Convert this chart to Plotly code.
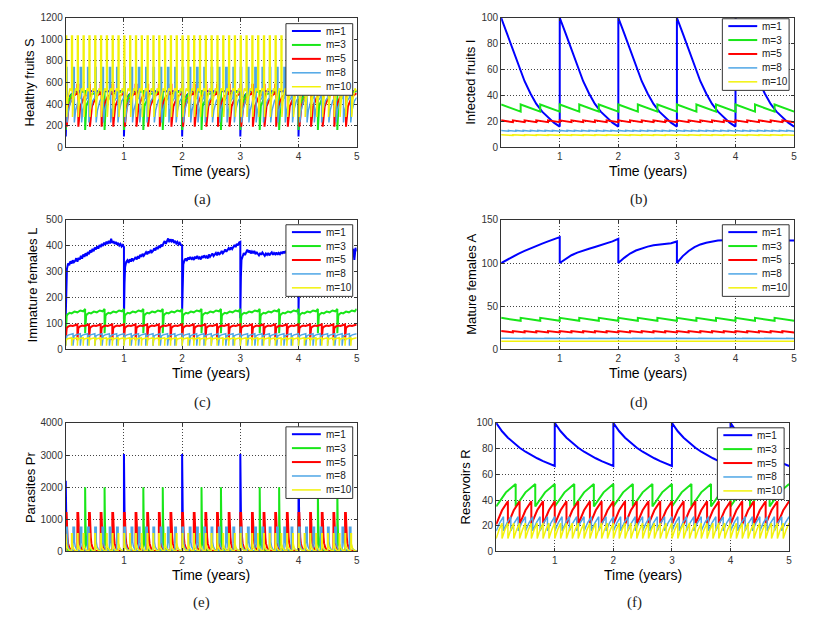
import plotly.graph_objects as go

W, H = 820, 631

# legend entries: number of releases per year
names = ["m=1", "m=3", "m=5", "m=8", "m=10"]
colors = ["#0000ff", "#19e619", "#ff0000", "#4ea6e6", "#f2f20a"]
widths = [2, 2, 2, 1.5, 1.5]

# release dates (years) for each m
rel_m1 = [0, 1, 2, 3, 4, 5]
rel_m3 = [0, 0.333, 0.667, 1, 1.333, 1.667, 2, 2.333, 2.667, 3, 3.333, 3.667, 4, 4.333, 4.667, 5]
rel_m5 = [0, 0.2, 0.4, 0.6, 0.8, 1, 1.2, 1.4, 1.6, 1.8, 2, 2.2, 2.4, 2.6, 2.8, 3, 3.2, 3.4, 3.6,
          3.8, 4, 4.2, 4.4, 4.6, 4.8, 5]
rel_m8 = [0, 0.125, 0.25, 0.375, 0.5, 0.625, 0.75, 0.875, 1, 1.125, 1.25, 1.375, 1.5, 1.625, 1.75,
          1.875, 2, 2.125, 2.25, 2.375, 2.5, 2.625, 2.75, 2.875, 3, 3.125, 3.25, 3.375, 3.5, 3.625,
          3.75, 3.875, 4, 4.125, 4.25, 4.375, 4.5, 4.625, 4.75, 4.875, 5]
rel_m10 = [0, 0.1, 0.2, 0.3, 0.4, 0.5, 0.6, 0.7, 0.8, 0.9, 1, 1.1, 1.2, 1.3, 1.4, 1.5, 1.6, 1.7,
           1.8, 1.9, 2, 2.1, 2.2, 2.3, 2.4, 2.5, 2.6, 2.7, 2.8, 2.9, 3, 3.1, 3.2, 3.3, 3.4, 3.5,
           3.6, 3.7, 3.8, 3.9, 4, 4.1, 4.2, 4.3, 4.4, 4.5, 4.6, 4.7, 4.8, 4.9, 5]
releases = [rel_m1, rel_m3, rel_m5, rel_m8, rel_m10]

# every curve: values read at fractions (phase) of the time between two releases
# a nested list gives one row of values per release interval

# (a) healthy fruits S
a_m1_phase = [0, 0.01, 0.04, 0.15, 1]
a_m1 = [100, 300, 460, 520, 520]
a_m3_phase = [0, 0, 0.06, 0.3, 1]
a_m3 = [520, 160, 380, 490, 520]
a_m5_phase = [0, 0, 0.08, 0.08, 0.25, 0.6, 1]
a_m5 = [500, 580, 580, 190, 380, 470, 500]
a_m8_phase = [0, 0, 0.18, 0.18, 0.35, 0.7, 1]
a_m8 = [460, 740, 740, 230, 340, 430, 460]
a_m10_phase = [0, 0, 0.15, 0.15, 0.35, 0.7, 1]
a_m10 = [520, 1030, 1030, 280, 440, 545, 520]

# (b) infected fruits I
b_m1_phase = [0, 0.1, 0.2, 0.3, 0.4, 0.5, 0.6, 0.7, 0.8, 0.9, 1]
b_m1 = [100, 88, 76, 63.5, 51, 41.5, 33.5, 27.5, 23, 19, 16]
b_m3_phase = [0, 1]
b_m3 = [33, 27.5]
b_m5_phase = [0, 0.5, 1]
b_m5 = [20.8, 20, 19.4]
b_m8_phase = [0, 1]
b_m8 = [13, 12.4]
b_m10_phase = [0, 1]
b_m10 = [9.6, 9.2]

# (c) immature females L
c_m1_phase = [0, 0.01, 0.02, 0.04, 0.06, 0.08, 0.10, 0.12, 0.14, 0.16, 0.18, 0.20, 0.22, 0.24,
              0.26, 0.28, 0.30, 0.32, 0.34, 0.36, 0.38, 0.40, 0.42, 0.44, 0.46, 0.48, 0.50, 0.52,
              0.54, 0.56, 0.58, 0.60, 0.62, 0.64, 0.66, 0.68, 0.70, 0.72, 0.74, 0.76, 0.78, 0.80,
              0.82, 0.84, 0.86, 0.88, 0.90, 0.92, 0.94, 0.96, 0.98, 1]
c_m1 = [
    [130, 250, 310, 332, 325, 340, 331, 344, 336, 341, 352, 338, 354, 346, 361, 350, 366, 357,
     371, 361, 376, 367, 383, 374, 388, 379, 393, 386, 398, 389, 403, 395, 407, 399, 412, 404,
     416, 407, 419, 409, 427, 411, 418, 407, 415, 404, 411, 401, 407, 397, 403, 395],
    [115, 255, 318, 338, 344, 334, 348, 339, 351, 343, 349, 356, 347, 360, 351, 365, 357, 369,
     361, 366, 375, 367, 378, 371, 384, 375, 380, 390, 382, 395, 387, 400, 392, 405, 397, 410,
     418, 407, 421, 428, 414, 425, 417, 424, 411, 419, 409, 415, 405, 411, 403, 400],
    [150, 268, 328, 344, 351, 341, 354, 347, 357, 349, 353, 345, 358, 350, 361, 351, 355, 347,
     360, 353, 363, 355, 359, 351, 366, 357, 362, 370, 360, 368, 372, 363, 375, 367, 371, 380,
     371, 377, 386, 377, 383, 391, 384, 394, 387, 397, 403, 395, 407, 401, 413, 415],
    [120, 280, 345, 361, 372, 364, 378, 385, 374, 382, 370, 378, 371, 380, 367, 376, 369, 363,
     372, 365, 374, 367, 361, 370, 365, 372, 363, 370, 375, 365, 372, 367, 374, 365, 372, 367,
     376, 369, 378, 371, 380, 373, 378, 371, 376, 369, 378, 371, 376, 369, 374, 371],
    [135, 282, 340, 359, 370, 364, 375, 369, 378, 371, 380, 373, 378, 371, 376, 369, 378, 371,
     376, 369, 378, 371, 380, 373, 378, 371, 376, 369, 378, 371, 376, 381, 373, 378, 371, 380,
     375, 382, 375, 380, 373, 382, 377, 384, 377, 386, 390, 380, 388, 345, 392, 378],
]
c_m3_phase = [0, 0.02, 0.05, 0.1, 0.2, 0.3, 0.45, 0.6, 0.75, 0.9, 1]
c_m3 = [62, 118, 130, 136, 141, 139, 146, 143, 150, 147, 156]
c_m5_phase = [0, 0.03, 0.08, 0.2, 0.4, 0.6, 0.8, 1]
c_m5 = [35, 70, 82, 88, 92, 90, 94, 96]
c_m8_phase = [0, 0.04, 0.15, 0.4, 0.7, 1]
c_m8 = [14, 42, 52, 56, 58, 60]
c_m10_phase = [0, 0.05, 0.2, 0.5, 0.8, 1]
c_m10 = [14, 33, 40, 43, 44, 45]

# (d) mature females A
d_m1_phase = [0, 0.1, 0.2, 0.3, 0.4, 0.5, 0.6, 0.7, 0.8, 0.9, 1]
d_m1 = [
    [100, 104, 107.5, 111, 114, 117, 120, 122.5, 125, 127.5, 130],
    [100, 105, 109, 112, 114.5, 116.5, 118.5, 120.5, 122.5, 125, 128],
    [100, 106, 111, 114.5, 117, 119, 120.5, 121.5, 122, 123, 125],
    [100, 108, 114, 118.5, 121.5, 123.5, 125, 126, 126.5, 127, 127],
    [100, 108, 114, 118.5, 121.5, 123.5, 125, 125.5, 126, 126, 126],
]
d_m3_phase = [0, 1]
d_m3 = [36.5, 33]
d_m5_phase = [0, 0.5, 1]
d_m5 = [21.2, 20.3, 19.6]
d_m8_phase = [0, 1]
d_m8 = [12.9, 12.5]
d_m10_phase = [0, 1]
d_m10 = [9.5, 9.3]

# (e) parasites Pr
e_m1_phase = [0, 0, 0.003, 0.006, 0.006, 0.012, 0.02, 0.035, 0.06, 0.1, 0.2, 1]
e_m1 = [
    [1300, 2200, 2200, 700, 1350, 600, 300, 150, 60, 20, 5, 0],
    [1500, 3030, 3030, 1600, 2200, 900, 400, 180, 70, 25, 5, 0],
    [1500, 3030, 3030, 1600, 2200, 900, 400, 180, 70, 25, 5, 0],
    [1500, 3030, 3030, 1600, 2200, 900, 400, 180, 70, 25, 5, 0],
    [1500, 3030, 3030, 1600, 2200, 900, 400, 180, 70, 25, 5, 0],
]
e_m3_phase = [0, 0, 0.01, 0.02, 0.04, 0.08, 0.15, 0.3, 1]
e_m3 = [
    [0, 600, 400, 250, 120, 60, 25, 8, 0],
    [0, 2000, 1400, 900, 500, 250, 100, 30, 0],
    [0, 2000, 1400, 900, 500, 250, 100, 30, 0],
    [0, 1000, 800, 600, 400, 200, 80, 25, 0],
    [0, 2000, 1400, 900, 500, 250, 100, 30, 0],
    [0, 2000, 1400, 900, 500, 250, 100, 30, 0],
    [0, 1000, 800, 600, 400, 200, 80, 25, 0],
    [0, 2000, 1400, 900, 500, 250, 100, 30, 0],
    [0, 2000, 1400, 900, 500, 250, 100, 30, 0],
    [0, 1000, 800, 600, 400, 200, 80, 25, 0],
    [0, 2000, 1400, 900, 500, 250, 100, 30, 0],
    [0, 2000, 1400, 900, 500, 250, 100, 30, 0],
    [0, 1100, 850, 600, 400, 200, 80, 25, 0],
    [0, 2000, 1400, 900, 500, 250, 100, 30, 0],
    [0, 2000, 1400, 900, 500, 250, 100, 30, 0],
]
e_m5_phase = [0, 0, 0.07, 0.1, 0.1, 0.15, 0.2, 0.3, 0.45, 0.7, 1]
e_m5 = [0, 1200, 1200, 550, 1200, 450, 250, 120, 40, 10, 0]
e_m8_phase = [0, 0, 0.2, 0.2, 0.3, 0.5, 0.8, 1]
e_m8 = [0, 750, 750, 300, 150, 60, 15, 0]
e_m10_phase = [0, 0, 0.1, 0.1, 0.25, 0.5, 0.8, 1]
e_m10 = [0, 550, 550, 250, 120, 50, 10, 0]

# (f) reservoirs R
f_m1_phase = [0, 0.1, 0.2, 0.3, 0.4, 0.5, 0.6, 0.7, 0.8, 0.9, 1]
f_m1 = [100, 93.5, 88.5, 84.3, 80.7, 77.6, 74.9, 72.5, 70.3, 68.3, 66.5]
f_m3_phase = [0, 0.5, 1]
f_m3 = [35, 46, 52.5]
f_m5_phase = [0, 0.5, 1]
f_m5 = [21, 32, 39]
f_m8_phase = [0, 0.5, 1]
f_m8 = [16, 22.5, 27]
f_m10_phase = [0, 0.5, 1]
f_m10 = [10, 17, 22]


def build(rel, phase, level):
    x, y = [], []
    for k in range(len(rel) - 1):
        t0, t1 = rel[k], rel[k + 1]
        row = level[k] if isinstance(level[0], list) else level
        for p, v in zip(phase, row):
            x.append(t0 + p * (t1 - t0))
            y.append(v)
    return x, y


def px(v):
    return v / W


def py(v):
    return 1 - v / H


# plot box (left, right, top, bottom) in pixels, y range, y step, y title + its x,
# legend box top-left corner, caption position
panels = [
    dict(box=(66, 358, 12, 144), yr=1200, dy=200, title="Healthy fruits S", tx=30,
         leg=(287, 18), cap=("(a)", 203, 197),
         data=[(a_m1_phase, a_m1), (a_m3_phase, a_m3), (a_m5_phase, a_m5),
               (a_m8_phase, a_m8), (a_m10_phase, a_m10)]),
    dict(box=(503, 797, 12, 144), yr=100, dy=20, title="Infected fruits I", tx=472,
         leg=(725, 13), cap=("(b)", 641, 197),
         data=[(b_m1_phase, b_m1), (b_m3_phase, b_m3), (b_m5_phase, b_m5),
               (b_m8_phase, b_m8), (b_m10_phase, b_m10)]),
    dict(box=(66, 358, 218, 350), yr=500, dy=100, title="Immature females L", tx=33,
         leg=(287, 223), cap=("(c)", 203, 404),
         data=[(c_m1_phase, c_m1), (c_m3_phase, c_m3), (c_m5_phase, c_m5),
               (c_m8_phase, c_m8), (c_m10_phase, c_m10)]),
    dict(box=(503, 797, 218, 350), yr=150, dy=50, title="Mature females A", tx=473,
         leg=(725, 223), cap=("(d)", 641, 404),
         data=[(d_m1_phase, d_m1), (d_m3_phase, d_m3), (d_m5_phase, d_m5),
               (d_m8_phase, d_m8), (d_m10_phase, d_m10)]),
    dict(box=(66, 358, 425, 556), yr=4000, dy=1000, title="Parasites Pr", tx=30,
         leg=(287, 429), cap=("(e)", 202, 608),
         data=[(e_m1_phase, e_m1), (e_m3_phase, e_m3), (e_m5_phase, e_m5),
               (e_m8_phase, e_m8), (e_m10_phase, e_m10)]),
    dict(box=(498, 792, 425, 556), yr=100, dy=20, title="Reservoirs R", tx=467,
         leg=(720, 430), cap=("(f)", 637, 608),
         data=[(f_m1_phase, f_m1), (f_m3_phase, f_m3), (f_m5_phase, f_m5),
               (f_m8_phase, f_m8), (f_m10_phase, f_m10)]),
]

fig = go.Figure()
shapes, notes, axes = [], [], {}
sans = "Liberation Sans, Arial, sans-serif"

for i, p in enumerate(panels):
    n = "" if i == 0 else str(i + 1)
    l, r, t, b = p["box"]
    for s, (phase, level) in enumerate(p["data"]):
        x, y = build(releases[s], phase, level)
        fig.add_trace(go.Scatter(
            x=x, y=y, mode="lines", name=names[s], showlegend=False, hoverinfo="skip",
            line=dict(color=colors[s], width=widths[s]), xaxis="x" + n, yaxis="y" + n))

    common = dict(showline=True, mirror="ticks", linecolor="#333", linewidth=1,
                  ticks="inside", ticklen=3, tickcolor="#333", zeroline=False,
                  showgrid=True, gridcolor="#444", gridwidth=1, griddash="1px,2px",
                  tickfont=dict(size=10, color="#333", family=sans))
    axes["xaxis" + n] = dict(common, domain=[px(l), px(r)], range=[0, 5],
                             tickvals=[1, 2, 3, 4, 5], anchor="y" + n)
    axes["yaxis" + n] = dict(common, domain=[py(b), py(t)], range=[0, p["yr"]],
                             dtick=p["dy"], tick0=0, anchor="x" + n)

    notes.append(dict(text=p["title"], x=px(p["tx"]), y=py((t + b) / 2), textangle=-90,
                      font=dict(size=13, color="#000", family=sans)))
    notes.append(dict(text="Time (years)", x=px((l + r) / 2), y=py(b + 24),
                      font=dict(size=14, color="#000", family=sans)))
    cap, cx, cy = p["cap"]
    notes.append(dict(text=cap, x=px(cx), y=py(cy),
                      font=dict(size=15, color="#222", family="Liberation Serif, serif")))

    # legend box
    lx, ly = p["leg"]
    shapes.append(dict(type="rect", xref="paper", yref="paper", layer="above",
                       x0=px(lx), x1=px(lx + 67), y0=py(ly + 73), y1=py(ly),
                       line=dict(color="#333", width=1), fillcolor="white"))
    for s in range(5):
        yy = ly + 7.5 + 14.2 * s
        shapes.append(dict(type="line", xref="paper", yref="paper", layer="above",
                           x0=px(lx + 6), x1=px(lx + 35), y0=py(yy), y1=py(yy),
                           line=dict(color=colors[s], width=widths[s])))
        notes.append(dict(text=names[s], x=px(lx + 38), y=py(yy), xanchor="left",
                          font=dict(size=10, color="#222", family=sans)))

for a in notes:
    a.update(xref="paper", yref="paper", showarrow=False)
    a.setdefault("xanchor", "center")
    a.setdefault("yanchor", "middle")

fig.update_layout(
    width=W, height=H, autosize=False,
    margin=dict(l=0, r=0, t=0, b=0),
    paper_bgcolor="white", plot_bgcolor="white",
    font=dict(family=sans),
    shapes=shapes, annotations=notes,
    **axes,
)

fig.write_html("out.html", config={"displayModeBar": False},
               post_script="document.body.style.margin='0';")
